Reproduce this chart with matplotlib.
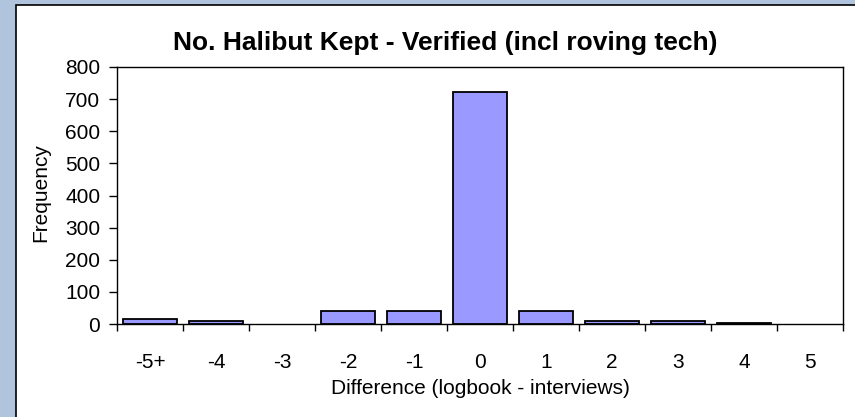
import matplotlib
matplotlib.use("Agg")
import matplotlib.pyplot as plt
from matplotlib.patches import Rectangle

categories = ["-5+", "-4", "-3", "-2", "-1", "0", "1", "2", "3", "4", "5"]
frequency = [15, 9, 0, 41, 41, 722, 41, 9, 9, 4, 0]

plt.rcParams['font.family'] = ['Liberation Sans', 'DejaVu Sans']

fig = plt.figure(figsize=(8.55, 4.17), dpi=100)
fig.patch.set_facecolor('#B0C4DE')
W, H = 855, 417
panel = Rectangle((16 / W, -0.01), 1.0, 1 - 5 / H + 0.01, transform=fig.transFigure,
                  facecolor='white', edgecolor='black', linewidth=1.2, zorder=-1)
fig.patches.append(panel)

ax = fig.add_axes([117 / W, 1 - 324 / H, (843 - 117) / W, (324 - 67) / H])
x = list(range(len(categories)))
bars = ax.bar(x, frequency, width=0.82, color='#9999FF', edgecolor='black', linewidth=1.3)
for b, v in zip(bars, frequency):
    if v == 0:
        b.set_linewidth(0)
ax.set_xlim(-0.5, len(categories) - 0.5)
ax.set_ylim(0, 800)
ax.set_yticks(range(0, 801, 100))
ax.set_xticks(x)
ax.set_xticklabels(categories, fontsize=15)
ax.tick_params(axis='x', which='major', length=0, pad=21)
ax.set_xticks([i - 0.5 for i in range(len(categories) + 1)], minor=True)
ax.tick_params(axis='x', which='minor', length=5, direction='out', width=1)
ax.tick_params(axis='y', length=6, direction='out', labelsize=15, width=1, pad=6)
for s in ax.spines.values():
    s.set_linewidth(1.0)
    s.set_color('black')
fig.text(41 / W, 1 - 193 / H, 'Frequency', rotation=90, ha='center', va='center', fontsize=15)
fig.text(480 / W, 1 - 394 / H, 'Difference (logbook - interviews)',
         ha='center', va='baseline', fontsize=15)
fig.text(445 / W, 1 - 43 / H, 'No. Halibut Kept - Verified (incl roving tech)',
         ha='center', va='center', fontsize=19, fontweight='bold')

fig.savefig('out.png', dpi=100, facecolor=fig.get_facecolor())
